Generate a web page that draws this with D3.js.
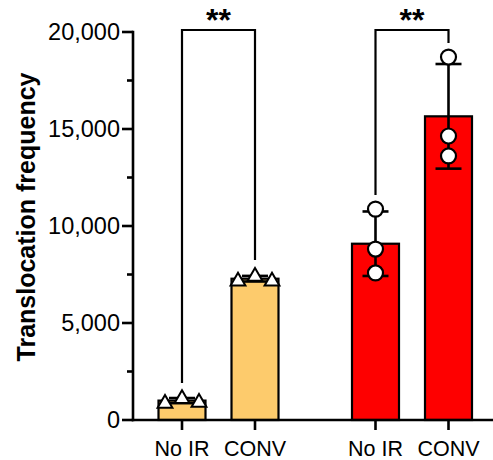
<!DOCTYPE html>
<html>
<head>
<meta charset="utf-8">
<script src="https://cdn.jsdelivr.net/npm/d3@7"></script>
<style>
  html, body { margin: 0; padding: 0; background: #fff; }
  svg { display: block; }
  text { font-family: "Liberation Sans", Arial, Helvetica, sans-serif; }
</style>
</head>
<body>
<svg id="chart" width="493" height="460"></svg>
<script>
// ---- data ----
const groups = ["A", "B"];
const conditions = ["No IR", "CONV"];
const groupColors = ["#fdcb6c", "#fe0000"];
const groupShapes = ["triangle", "circle"];
const valuesA_NoIR = [900, 1150, 950];
const valuesA_CONV = [7200, 7450, 7200];
const valuesB_NoIR = [10870, 8810, 7580];
const valuesB_CONV = [18710, 14640, 13610];
const yTicks = [0, 5000, 10000, 15000, 20000];
const yMinorTicks = [2500, 7500, 12500, 17500];
const yLabel = "Translocation frequency";
const sigLabels = ["**", "**"];

const bars = [
  { group: 0, cond: 0, values: valuesA_NoIR },
  { group: 0, cond: 1, values: valuesA_CONV },
  { group: 1, cond: 0, values: valuesB_NoIR },
  { group: 1, cond: 1, values: valuesB_CONV }
];

// ---- layout ----
const svg = d3.select("#chart");
const axisX = 133, axisY = 420;
const y = d3.scaleLinear().domain([0, 20000]).range([420, 32]);
const xGroup = d3.scalePoint().domain([0, 1]).range([218.5, 412]);
const xCond = d3.scalePoint().domain([0, 1]).range([-36.5, 36.5]);
const xc = d => xGroup(d.group) + xCond(d.cond);
const barW = 47;
const capW = 26;

bars.forEach(b => { b.mean = d3.mean(b.values); b.sd = d3.deviation(b.values); });

// bars
svg.append("g").selectAll("rect").data(bars).join("rect")
  .attr("x", d => xc(d) - barW / 2)
  .attr("y", d => y(d.mean))
  .attr("width", barW)
  .attr("height", d => y(0) - y(d.mean))
  .attr("fill", d => groupColors[d.group])
  .attr("stroke", "#000")
  .attr("stroke-width", 2.2);

// error bars
const eb = svg.append("g").attr("stroke", "#000").attr("stroke-width", 2.6);
bars.forEach(b => {
  const cx = xc(b);
  eb.append("line").attr("x1", cx).attr("x2", cx).attr("y1", y(b.mean + b.sd)).attr("y2", y(b.mean - b.sd));
  eb.append("line").attr("x1", cx - capW / 2).attr("x2", cx + capW / 2).attr("y1", y(b.mean + b.sd)).attr("y2", y(b.mean + b.sd));
  eb.append("line").attr("x1", cx - capW / 2).attr("x2", cx + capW / 2).attr("y1", y(b.mean - b.sd)).attr("y2", y(b.mean - b.sd));
});

// points
const jitter = d3.scalePoint().domain([0, 1, 2]).range([-17, 17]);
const pts = svg.append("g");
bars.forEach(b => {
  b.values.forEach((v, i) => {
    if (groupShapes[b.group] === "triangle") {
      pts.append("path")
        .attr("d", d3.symbol().type(d3.symbolTriangle).size(95)())
        .attr("transform", `translate(${xc(b) + jitter(i)},${y(v) + 1})`)
        .attr("fill", "#fff").attr("stroke", "#000").attr("stroke-width", 2);
    } else {
      pts.append("circle")
        .attr("cx", xc(b)).attr("cy", y(v)).attr("r", 7.5)
        .attr("fill", "#fff").attr("stroke", "#000").attr("stroke-width", 2.2);
    }
  });
});

// y axis
const yAxis = svg.append("g").attr("transform", `translate(${axisX},0)`);
yAxis.append("line").attr("x1", 0).attr("x2", 0).attr("y1", y(20000) - 1.3).attr("y2", axisY + 1.3)
  .attr("stroke", "#000").attr("stroke-width", 2.6);
yAxis.selectAll(".major").data(yTicks).join("line")
  .attr("x1", -11).attr("x2", 0).attr("y1", d => y(d)).attr("y2", d => y(d))
  .attr("stroke", "#000").attr("stroke-width", 2.6);
yAxis.selectAll(".minor").data(yMinorTicks).join("line")
  .attr("x1", -6).attr("x2", 0).attr("y1", d => y(d)).attr("y2", d => y(d))
  .attr("stroke", "#000").attr("stroke-width", 2.6);
const fmt = d3.format(",");
yAxis.selectAll("text").data(yTicks).join("text")
  .attr("x", -13).attr("y", d => y(d)).attr("dy", "0.36em")
  .attr("text-anchor", "end").attr("font-size", 23.5)
  .text(d => fmt(d));

// x axis
svg.append("line").attr("x1", axisX - 1.3).attr("x2", 493).attr("y1", axisY).attr("y2", axisY)
  .attr("stroke", "#000").attr("stroke-width", 2.6);
svg.append("g").selectAll("line").data(bars).join("line")
  .attr("x1", d => xc(d)).attr("x2", d => xc(d)).attr("y1", axisY).attr("y2", axisY + 10)
  .attr("stroke", "#000").attr("stroke-width", 2.6);
svg.append("g").selectAll("text").data(bars).join("text")
  .attr("x", d => xc(d)).attr("y", 456)
  .attr("text-anchor", "middle").attr("font-size", 21.5)
  .text(d => conditions[d.cond]);

// y label
svg.append("text")
  .attr("transform", `translate(35,217) rotate(-90)`)
  .attr("text-anchor", "middle").attr("font-size", 25).attr("font-weight", "bold")
  .text(yLabel);

// significance brackets
const brackets = [
  { a: bars[0], b: bars[1], aEnd: 383, bEnd: 260, label: sigLabels[0] },
  { a: bars[2], b: bars[3], aEnd: 195, bEnd: 43, label: sigLabels[1] }
];
const bracketY = 30;
brackets.forEach(br => {
  const x1 = xc(br.a), x2 = xc(br.b);
  svg.append("path")
    .attr("d", `M${x1},${br.aEnd}V${bracketY}H${x2}V${br.bEnd}`)
    .attr("fill", "none").attr("stroke", "#000").attr("stroke-width", 2.2);
  svg.append("text")
    .attr("x", (x1 + x2) / 2).attr("y", 31)
    .attr("text-anchor", "middle").attr("font-size", 32).attr("font-weight", "bold")
    .text(br.label);
});
</script>
</body>
</html>
